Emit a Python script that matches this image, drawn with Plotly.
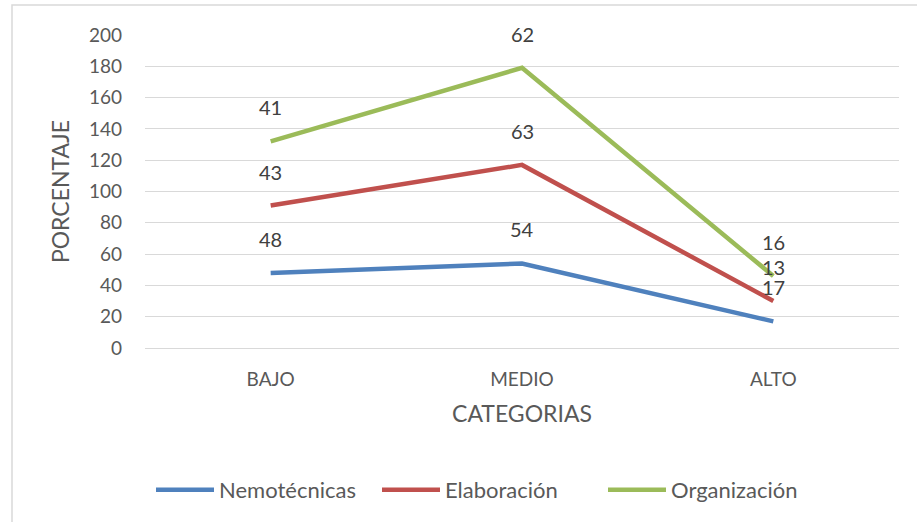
import numpy as np
import plotly.graph_objects as go

categories = ["BAJO", "MEDIO", "ALTO"]
series_names = ["Nemotécnicas", "Elaboración", "Organización"]
nemotecnicas = [48, 54, 17]
elaboracion = [43, 63, 13]
organizacion = [41, 62, 16]
colors = ["#4F81BD", "#C0504D", "#9BBB59"]
y_ticks = [0, 20, 40, 60, 80, 100, 120, 140, 160, 180, 200]

values = [nemotecnicas, elaboracion, organizacion]
stacked = np.cumsum(np.array(values), axis=0)

FONT = "Lato"
GRAY = "#595959"

fig = go.Figure()
annotations = []
for name, vals, cum, col in zip(series_names, values, stacked, colors):
    fig.add_trace(go.Scatter(
        x=categories, y=cum, name=name, mode="lines",
        line=dict(color=col, width=4.5),
        hoverinfo="skip",
    ))
    for c, v, s in zip(categories, vals, cum):
        annotations.append(dict(
            x=c, y=s, text=str(v), showarrow=False, yshift=34,
            font=dict(family=FONT, size=20, color="#404040"),
        ))

W, H = 917, 522
L, R, T, B = 145, 18, 35, 173
pw, ph = W - L - R, H - T - B

fig.update_layout(
    width=W, height=H,
    margin=dict(l=L, r=R, t=T, b=B),
    paper_bgcolor="white", plot_bgcolor="white",
    font=dict(family=FONT, size=19, color=GRAY),
    showlegend=True,
    legend=dict(orientation="h", x=(490 - L) / pw, xanchor="center",
                y=-(490 - (T + ph)) / ph, yanchor="middle",
                font=dict(family=FONT, size=22, color=GRAY), itemwidth=58,
                entrywidth=153, entrywidthmode="pixels",
                tracegroupgap=0),
    annotations=annotations,
    shapes=[dict(type="rect", xref="paper", yref="paper",
                 x0=(12 - L) / pw, x1=(W + 30 - L) / pw,
                 y0=-(H + 30 - T - ph) / ph, y1=1 + (T - 5) / ph,
                 line=dict(color="#D9D9D9", width=1.5), layer="below")],
)
fig.update_xaxes(
    type="category", range=[-0.5, 2.5], showgrid=False, showline=False,
    ticks="", ticklabelstandoff=18, tickfont=dict(size=19, color=GRAY),
    title=dict(text="CATEGORIAS", font=dict(size=23, color=GRAY), standoff=16),
)
fig.update_yaxes(
    range=[0, 200], tickvals=y_ticks, showgrid=True, gridcolor="#D9D9D9", gridwidth=1.3,
    zeroline=True, zerolinecolor="#D9D9D9", zerolinewidth=1.3, showline=False,
    ticks="", ticklabelstandoff=22, tickfont=dict(size=19, color=GRAY),
    title=dict(text="PORCENTAJE", font=dict(size=23, color=GRAY), standoff=12),
)

fig.write_html("out.html", config={"displayModeBar": False},
               post_script="document.body.style.margin='0';")
